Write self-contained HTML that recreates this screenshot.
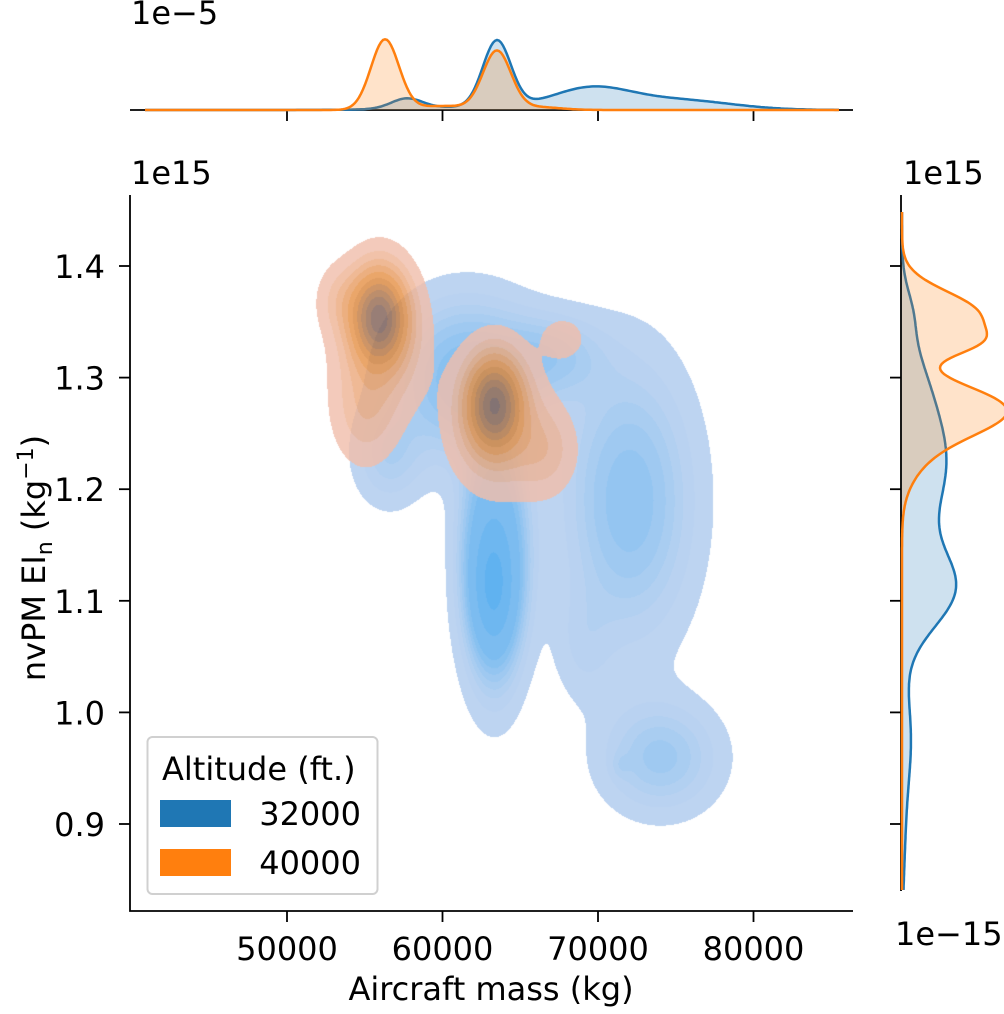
<!DOCTYPE html>
<html><head><meta charset="utf-8">
<style>
body{margin:0;background:#fff;width:1004px;height:1014px;overflow:hidden;position:relative;font-family:"DejaVu Sans","Liberation Sans",sans-serif;}
#dens{position:absolute;left:130px;top:195px;}
#ov{position:absolute;left:0;top:0;}
text{font-family:"DejaVu Sans","Liberation Sans",sans-serif;fill:#000;}
</style></head>
<body>
<canvas id="dens" width="723" height="716"></canvas>
<svg id="ov" width="1004" height="1014"></svg>
<script>
// ---- data (components of the KDE) ----
const series = ["32000", "40000"];
const blueMass = [63250, 63300, 72000, 61500, 74000, 71400, 56500, 69000, 67000];
const blueEI   = [1.115, 1.135, 1.19, 1.30, 0.96, 0.953, 1.23, 1.06, 1.32];
const blueSM   = [700, 1300, 2700, 3000, 2500, 400, 1500, 1300, 2300];
const blueSE   = [0.03, 0.065, 0.08, 0.045, 0.033, 0.008, 0.03, 0.035, 0.025];
const blueW    = [1.5, 1.0, 0.4, 0.5, 0.3, 0.06, 0.2, 0.1, 0.25];
const orMass = [55900, 63300, 56000, 63500, 67700, 53500, 55000, 66500];
const orEI   = [1.355, 1.277, 1.33, 1.26, 1.335, 1.37, 1.27, 1.235];
const orSM   = [1150, 1150, 1800, 1900, 900, 1000, 1300, 1300];
const orSE   = [0.027, 0.027, 0.04, 0.037, 0.012, 0.02, 0.03, 0.025];
const orW    = [1.0, 0.9, 0.2, 0.22, 0.1, 0.12, 0.15, 0.15];
// marginal x (mass) components
const topBlueMu = [63500, 57700, 69500, 75000, 62000];
const topBlueSd = [900, 1000, 2500, 3500, 4000];
const topBlueA  = [66, 10, 20, 10, 3];
const topOrMu = [56300, 63500, 60000, 66000];
const topOrSd = [900, 900, 2000, 1500];
const topOrA  = [70, 58, 4, 3];
// marginal y (EI) components
const rBlueMu = [1.11, 1.22, 1.30, 1.36, 0.98, 0.9];
const rBlueSd = [0.035, 0.05, 0.04, 0.02, 0.04, 0.05];
const rBlueA  = [50, 42, 14, 6, 8, 3];
const rOrMu = [1.357, 1.33, 1.272, 1.235];
const rOrSd = [0.02, 0.012, 0.022, 0.025];
const rOrA  = [75, 45, 98, 20];
const xTicks = [50000, 60000, 70000, 80000];
const yTicks = [0.9, 1.0, 1.1, 1.2, 1.3, 1.4];
const levels = [0.05, 0.15, 0.25, 0.35, 0.45, 0.55, 0.65, 0.75, 0.85, 0.95];

// ---- scales ----
const X = m => 287 + (m - 50000) / 10000 * 155.5;
const Y = e => 266 - (e - 1.4) / 0.1 * 111.6;
const Xi = px => 50000 + (px - 287) / 155.5 * 10000;
const Yi = py => 1.4 - (py - 266) / 1116;
const L = 130, R = 853, T = 195, B = 911;

function dens2(m, e, M, E, SM, SE, W) {
  let s = 0;
  for (let i = 0; i < M.length; i++) {
    const a = (m - M[i]) / SM[i], b = (e - E[i]) / SE[i];
    s += W[i] * Math.exp(-0.5 * (a * a + b * b));
  }
  return s;
}
function g1(v, Mu, Sd, A) {
  let s = 0;
  for (let i = 0; i < Mu.length; i++) { const a = (v - Mu[i]) / Sd[i]; s += A[i] * Math.exp(-0.5 * a * a); }
  return s;
}
function lerp(c1, c2, t) { return c1.map((v, i) => v + (c2[i] - v) * t); }
function blueCol(k) { return lerp([189, 212, 241], [96, 178, 240], Math.pow(k / 9, 1.4)); }
function orCol(k) {
  const t = k / 9;
  if (t < 0.5) return lerp([240, 190, 172], [228, 140, 60], Math.pow(t / 0.5, 1.1));
  return lerp([228, 140, 60], [130, 98, 88], (t - 0.5) / 0.5);
}

// ---- density canvas ----
const cv = document.getElementById('dens'), ctx = cv.getContext('2d');
const W = cv.width, H = cv.height;
const img = ctx.createImageData(W, H);
const bGrid = new Float32Array(W * H), oGrid = new Float32Array(W * H);
for (let y = 0; y < H; y++) for (let x = 0; x < W; x++) {
  const m = Xi(x + L), e = Yi(y + T);
  bGrid[y * W + x] = dens2(m, e, blueMass, blueEI, blueSM, blueSE, blueW);
  oGrid[y * W + x] = dens2(m, e, orMass, orEI, orSM, orSE, orW);
}
function isoThresh(grid) {
  const s = Array.from(grid).sort((a, b) => b - a);
  let tot = 0; for (const v of s) tot += v;
  const targets = levels.map(q => (1 - q) * tot);
  const res = new Array(levels.length);
  let cum = 0;
  for (let i = 0; i < s.length; i++) {
    cum += s[i];
    for (let k = 0; k < targets.length; k++) if (res[k] === undefined && cum >= targets[k]) res[k] = s[i];
  }
  return res;
}
const bTh = isoThresh(bGrid), oTh = isoThresh(oGrid);
function lvl(v, th) { let k = -1; for (let i = 0; i < th.length; i++) if (v >= th[i]) k = i; return k; }
for (let i = 0; i < W * H; i++) {
  let c = [255, 255, 255];
  const kb = lvl(bGrid[i], bTh);
  if (kb >= 0) c = blueCol(kb);
  const ko = lvl(oGrid[i], oTh);
  if (ko >= 0) c = lerp(c, orCol(ko), 0.82);
  img.data[i * 4] = c[0]; img.data[i * 4 + 1] = c[1]; img.data[i * 4 + 2] = c[2]; img.data[i * 4 + 3] = 255;
}
ctx.putImageData(img, 0, 0);

// ---- SVG overlay ----
const NS = 'http://www.w3.org/2000/svg';
const svg = document.getElementById('ov');
function el(tag, attrs, parent) {
  const e = document.createElementNS(NS, tag);
  for (const k in attrs) e.setAttribute(k, attrs[k]);
  (parent || svg).appendChild(e); return e;
}
function txt(s, x, y, size, anchor, name) {
  const t = el('text', { x: x, y: y, 'font-size': size, 'text-anchor': anchor || 'start' });
  t.textContent = s;
  
  
  return t;
}
const FS = 32;
const sp = el('path', { d: `M${L},${T}V${B}H${R}`, stroke: '#000', 'stroke-width': 1.8, fill: 'none' });


xTicks.forEach(v => {
  const t = el('line', { x1: X(v), x2: X(v), y1: B, y2: B + 11, stroke: '#000', 'stroke-width': 1.8 });
  
  
  txt(String(v), X(v), 960, FS, 'middle', 'x-tick-label');
  const t2 = el('line', { x1: X(v), x2: X(v), y1: 110, y2: 121, stroke: '#000', 'stroke-width': 1.8 });
  
  
});
yTicks.forEach(v => {
  const t = el('line', { x1: L - 11, x2: L, y1: Y(v), y2: Y(v), stroke: '#000', 'stroke-width': 1.8 });
  
  
  txt(v.toFixed(1), 105, Y(v) + 12, FS, 'end', 'y-tick-label');
  const t2 = el('line', { x1: 890, x2: 901, y1: Y(v), y2: Y(v), stroke: '#000', 'stroke-width': 1.8 });
  
  
});
txt('1e15', 131, 184, FS, 'start', 'y-offset-label');
txt('Aircraft mass (kg)', 491, 1000, FS, 'middle', 'x-axis-title');
const yl = el('text', { x: 0, y: 0, 'font-size': FS, 'text-anchor': 'middle', transform: 'translate(45,558) rotate(-90)' });


yl.innerHTML = 'nvPM EI<tspan font-size="22" dy="7">n</tspan><tspan dy="-7"> (kg</tspan><tspan font-size="22" dy="-12">−1</tspan><tspan dy="12">)</tspan>';

// top marginal
const tb = el('line', { x1: L, x2: R, y1: 110, y2: 110, stroke: '#000', 'stroke-width': 1.8 });


txt('1e−5', 131, 24, FS, 'start', 'top-offset-label');
function topPath(Mu, Sd, A) {
  let d = '';
  for (let px = 145; px <= 840; px += 2) {
    const v = g1(Xi(px), Mu, Sd, A);
    d += (d ? 'L' : 'M') + px + ',' + (110 - v).toFixed(1);
  }
  return d;
}
[[topBlueMu, topBlueSd, topBlueA, '#1f77b4', 'top-marginal-32000'], [topOrMu, topOrSd, topOrA, '#ff7f0e', 'top-marginal-40000']].forEach(s => {
  const d = topPath(s[0], s[1], s[2]);
  const f = el('path', { d: d + 'L840,110L145,110Z', fill: s[3], 'fill-opacity': 0.22, stroke: 'none' });
  
  
  const l = el('path', { d: d, fill: 'none', stroke: s[3], 'stroke-width': 2.5 });
  
  
});
// right marginal
const rb = el('line', { x1: 901, x2: 901, y1: T, y2: B - 20, stroke: '#000', 'stroke-width': 1.8 });


txt('1e15', 903, 184, FS, 'start', 'right-offset-label');
txt('1e−15', 895, 945, FS, 'start', 'right-scale-label');
function rPath(Mu, Sd, A) {
  let d = '';
  for (let py = 212; py <= 890; py += 2) {
    const v = g1(Yi(py), Mu, Sd, A);
    d += (d ? 'L' : 'M') + (902 + v).toFixed(1) + ',' + py;
  }
  return d;
}
[[rBlueMu, rBlueSd, rBlueA, '#1f77b4', 'right-marginal-32000'], [rOrMu, rOrSd, rOrA, '#ff7f0e', 'right-marginal-40000']].forEach(s => {
  const d = rPath(s[0], s[1], s[2]);
  const f = el('path', { d: d + 'L902,890L902,212Z', fill: s[3], 'fill-opacity': 0.22, stroke: 'none' });
  
  
  const l = el('path', { d: d, fill: 'none', stroke: s[3], 'stroke-width': 2.5 });
  
  
});
// legend
const lg = el('g', {});


el('rect', { x: 147.5, y: 737, width: 230, height: 157, rx: 5, fill: '#fff', 'fill-opacity': 0.8, stroke: '#d0d0d0', 'stroke-width': 2 }, lg);
const lt = el('text', { x: 162, y: 780, 'font-size': FS }, lg); lt.textContent = 'Altitude (ft.)';


[['#1f77b4', series[0], 800], ['#ff7f0e', series[1], 849]].forEach(s => {
  const r = el('rect', { x: 160, y: s[2], width: 71, height: 27, fill: s[0] }, lg);
  
  
  const t = el('text', { x: 361, y: s[2] + 25, 'font-size': FS, 'text-anchor': 'end' }, lg); t.textContent = s[1];
  
  
});
</script>
</body></html>
